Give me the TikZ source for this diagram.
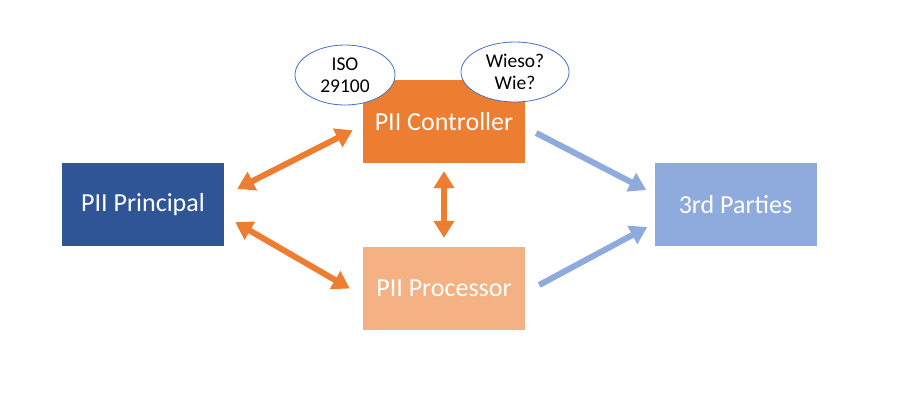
\documentclass[tikz,border=0pt]{standalone}
\usepackage{fontspec}
\setmainfont{Carlito}
\usetikzlibrary{arrows.meta,shapes.geometric,calc}
\definecolor{dblue}{HTML}{2F5597}
\definecolor{orng}{HTML}{ED7D31}
\definecolor{lorng}{HTML}{F4B183}
\definecolor{lblue}{HTML}{8FAADC}
\definecolor{eline}{HTML}{4472C4}
\tikzset{
  box/.style={rectangle, minimum width=162pt, minimum height=83pt, inner sep=0pt, text=white, font=\fontsize{26}{30}\selectfont},
  bubble/.style={ellipse, draw=eline, line width=0.8pt, fill=white, inner sep=0pt, align=center, font=\fontsize{19.5}{22}\selectfont},
  oarrow/.style={orng, line width=6pt, {Triangle[length=17pt,width=20pt]}-{Triangle[length=17pt,width=20pt]}},
  barrow/.style={lblue, line width=6pt, -{Triangle[length=17pt,width=20pt]}}
}
\begin{document}
\begin{tikzpicture}[x=1pt,y=-1pt]
\useasboundingbox (0,0) rectangle (900,402);
\node[box, fill=dblue] (pr) at (143,204.5) {PII Principal};
\node[box, fill=orng] (ctl) at (444,121.5) {PII Controller};
\node[box, fill=lorng] (proc) at (444,288.5) {PII Processor};
\node[box, fill=lblue] (tp) at (735.5,204.5) {3rd Parties};
\node[bubble, minimum width=100pt, minimum height=60pt] (iso) at (345,75) {ISO\\29100};
\node[bubble, minimum width=108pt, minimum height=60pt] (wie) at (515,72) {Wieso?\\Wie?};
\draw[oarrow] ($(pr.north east)+(13,26)$) -- ($(ctl.south west)+(-10,-33)$);
\draw[oarrow] ($(pr.south east)+(11,-24)$) -- ($(proc.west)+(-13,0)$);
\draw[oarrow] ($(ctl.south)+(0,8)$) -- ($(proc.north)+(0,-9)$);
\draw[barrow] ($(ctl.east)+(11,11.5)$) -- ($(tp.west)+(-8,-14.5)$);
\draw[barrow] ($(proc.east)+(14,-3.5)$) -- ($(tp.west)+(-7,22.5)$);
\end{tikzpicture}
\end{document}
